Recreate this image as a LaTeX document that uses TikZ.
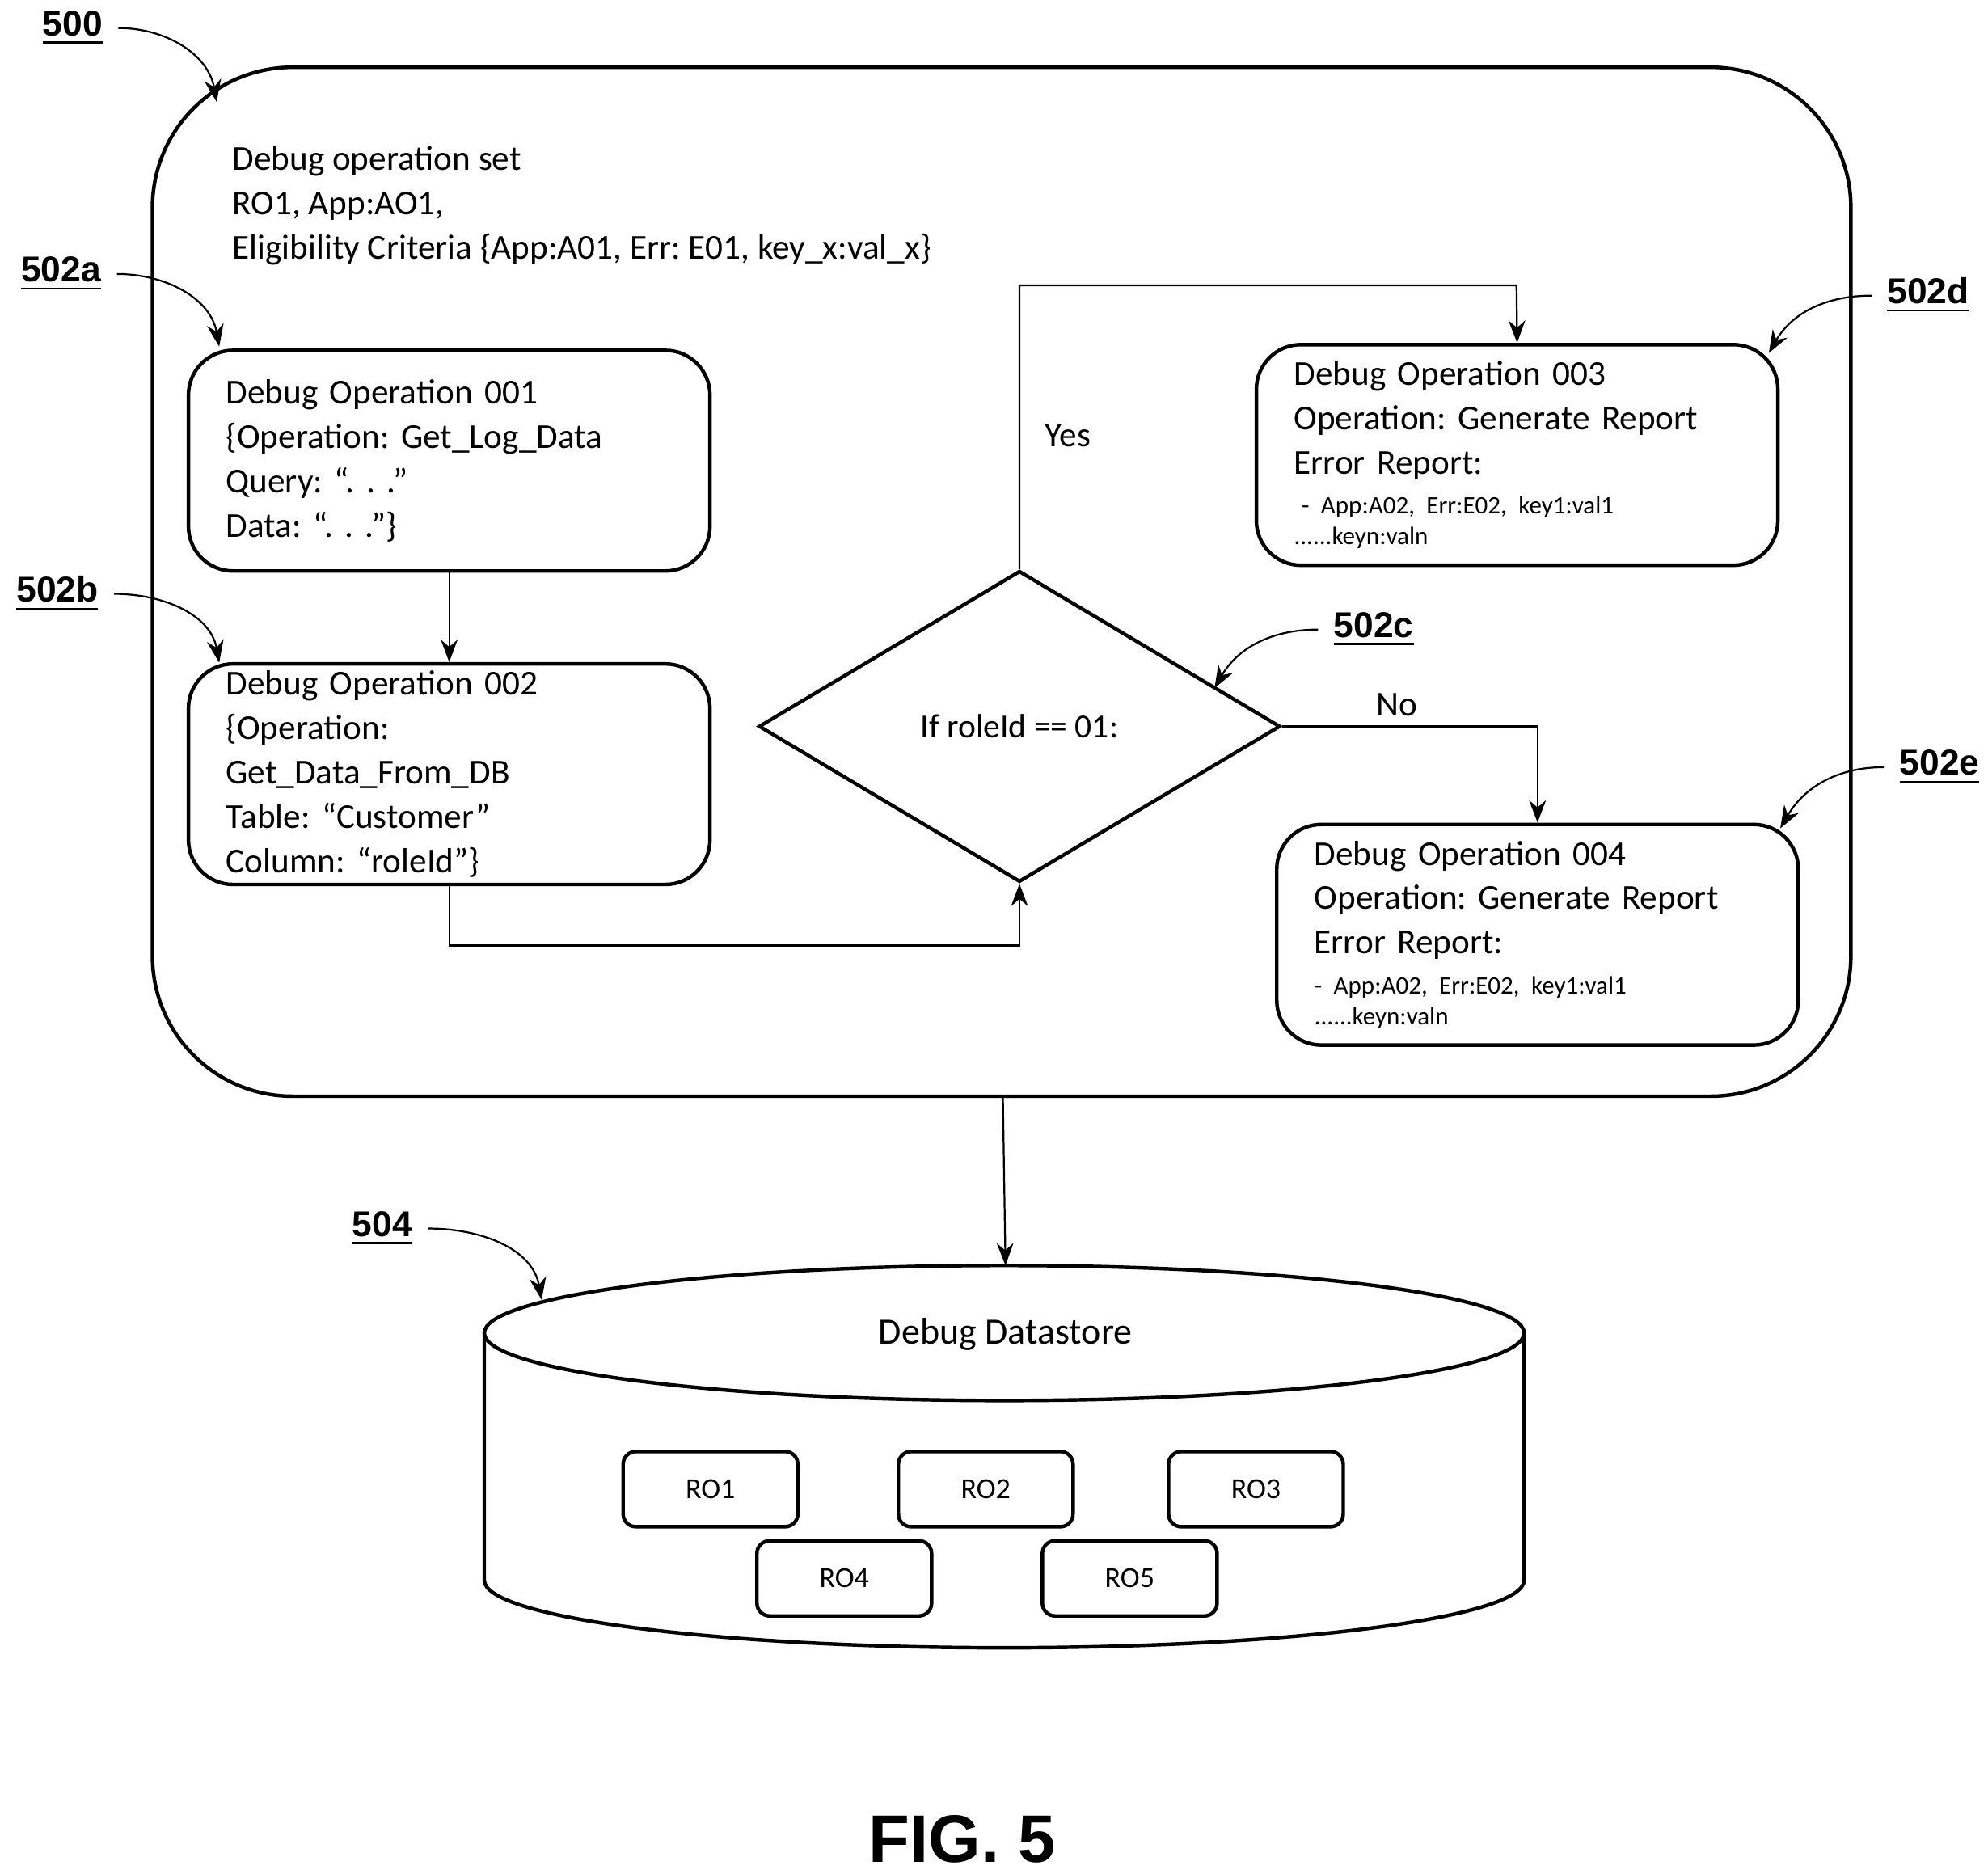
\documentclass[tikz,border=0pt]{standalone}
\usepackage{fontspec}
\setmainfont{Carlito}
\newfontfamily\labelfont{Liberation Sans}
\usetikzlibrary{positioning,shapes.geometric,arrows.meta}
\frenchspacing

\tikzset{
  opbox/.style={draw, thick, rounded corners=0.35cm, align=left, inner xsep=0.29cm, inner ysep=0.05cm,
    minimum width=4.09cm, minimum height=1.73cm, text width=3.5cm,
    font=\fontsize{7.8}{9.9}\selectfont},
  robox/.style={draw, thick, rounded corners=0.1cm, minimum width=1.37cm,
    minimum height=0.59cm, font=\fontsize{6.5}{8}\selectfont},
  reflabel/.style={font=\labelfont\bfseries\fontsize{8}{10}\selectfont},
  refarrow/.style={-{Stealth[length=5pt]}, thin},
  flow/.style={-{Stealth[length=5pt]}, thin}
}
\newcommand{\smalltxt}{\fontsize{5.6}{7}\selectfont}

\begin{document}
\begin{tikzpicture}[x=0.01cm, y=-0.01cm]
    \useasboundingbox (0,0) rectangle (1560,1467);

    % Outer operation set
    \node [draw, thick, rounded corners=1.1cm, minimum width=13.32cm, minimum height=8.07cm] (opset) at (786,456.5) {};
    \node [anchor=north west, align=left, font=\fontsize{7.8}{9.9}\selectfont] (header) at (170,102)
      {Debug operation set\\RO1, App:AO1,\\Eligibility Criteria \{App:A01, Err: E01, key\_x:val\_x\}};

    % Operations
    \node [opbox] (op1) at (352.5,361.5) {Debug Operation 001\\\{Operation: Get\_Log\_Data\\Query: “. . .”\\Data: “. . .”\}};
    \node [opbox] (op2) at (352.5,607.5) {Debug Operation 002\\\{Operation:\\Get\_Data\_From\_DB\\Table: “Customer”\\Column: “roleId”\}};
    \node [draw, thick, diamond, aspect=1.68, minimum width=4.09cm, minimum height=2.44cm,
      inner sep=0pt, font=\fontsize{7.5}{9}\selectfont] (check) at (800,570) {If roleId == 01:};
    \node [opbox] (op3) at (1190.5,357) {Debug Operation 003\\Operation: Generate Report\\Error Report:\\[-1pt]
      {\smalltxt\hspace{0.06cm}- App:A02, Err:E02, key1:val1}\\[-3pt]{\smalltxt ......keyn:valn}};
    \node [opbox] (op4) at (1206.5,733.5) {Debug Operation 004\\Operation: Generate Report\\Error Report:\\[-1pt]
      {\smalltxt- App:A02, Err:E02, key1:val1}\\[-3pt]{\smalltxt ......keyn:valn}};

    % Flow
    \draw [flow] (op1) -- (op2);
    \draw [flow] (op2.south) |- (800,742) -- (check.south);
    \draw [flow] (check.north) |- (1190,224) -- (op3.north);
    \draw [flow] (check.east) -| (op4.north);
    \node [font=\fontsize{7.8}{10}\selectfont] (yes) at (838,342) {Yes};
    \node [font=\fontsize{7.8}{10}\selectfont] (no) at (1096,553) {No};

    % Datastore
    \coordinate (storetop) at (789,993);
    \draw [thick] (380,1046) -- (380,1240) arc[start angle=180, end angle=0, x radius=408, y radius=53]
      -- (1196,1046);
    \draw [thick] (788,1046) ellipse [x radius=408, y radius=53];
    \node [font=\fontsize{8.3}{10}\selectfont] (store) at (789,1047) {Debug Datastore};
    \node [robox] (ro1) at (557.5,1168.5) {RO1};
    \node [robox] (ro2) at (773.5,1168.5) {RO2};
    \node [robox] (ro3) at (985.5,1168.5) {RO3};
    \node [robox] (ro4) at (662.5,1238.5) {RO4};
    \node [robox] (ro5) at (886.5,1238.5) {RO5};
    \draw [flow] (opset.south -| 787,0) -- (storetop);

    % Reference labels
    \node [reflabel] (l500) at (57,22) {\underline{500}};
    \node [reflabel] (l502a) at (48,215) {\underline{502a}};
    \node [reflabel] (l502b) at (45,466) {\underline{502b}};
    \node [reflabel] (l502c) at (1078,494) {\underline{502c}};
    \node [reflabel] (l502d) at (1513,232) {\underline{502d}};
    \node [reflabel] (l502e) at (1522,602) {\underline{502e}};
    \node [reflabel] (l504) at (300,964) {\underline{504}};
    \coordinate (t500) at (170,80);
    \coordinate (t502a) at (172,272);
    \coordinate (t502b) at (172,520);
    \coordinate (t502c) at (953,540);
    \coordinate (t502d) at (1388,277);
    \coordinate (t502e) at (1397,650);
    \coordinate (t504) at (425,1020);
    \draw [refarrow] (l500.east) to[out=0, in=100] (t500);
    \draw [refarrow] (l502a.east) to[out=0, in=100] (t502a);
    \draw [refarrow] (l502b.east) to[out=0, in=100] (t502b);
    \draw [refarrow] (l502c.west) to[out=180, in=60] (t502c);
    \draw [refarrow] (l502d.west) to[out=180, in=60] (t502d);
    \draw [refarrow] (l502e.west) to[out=180, in=60] (t502e);
    \draw [refarrow] (l504.east) to[out=0, in=100] (t504);

    \node [font=\labelfont\bfseries\fontsize{15}{18}\selectfont] (fig) at (755,1443) {FIG. 5};
\end{tikzpicture}
\end{document}
